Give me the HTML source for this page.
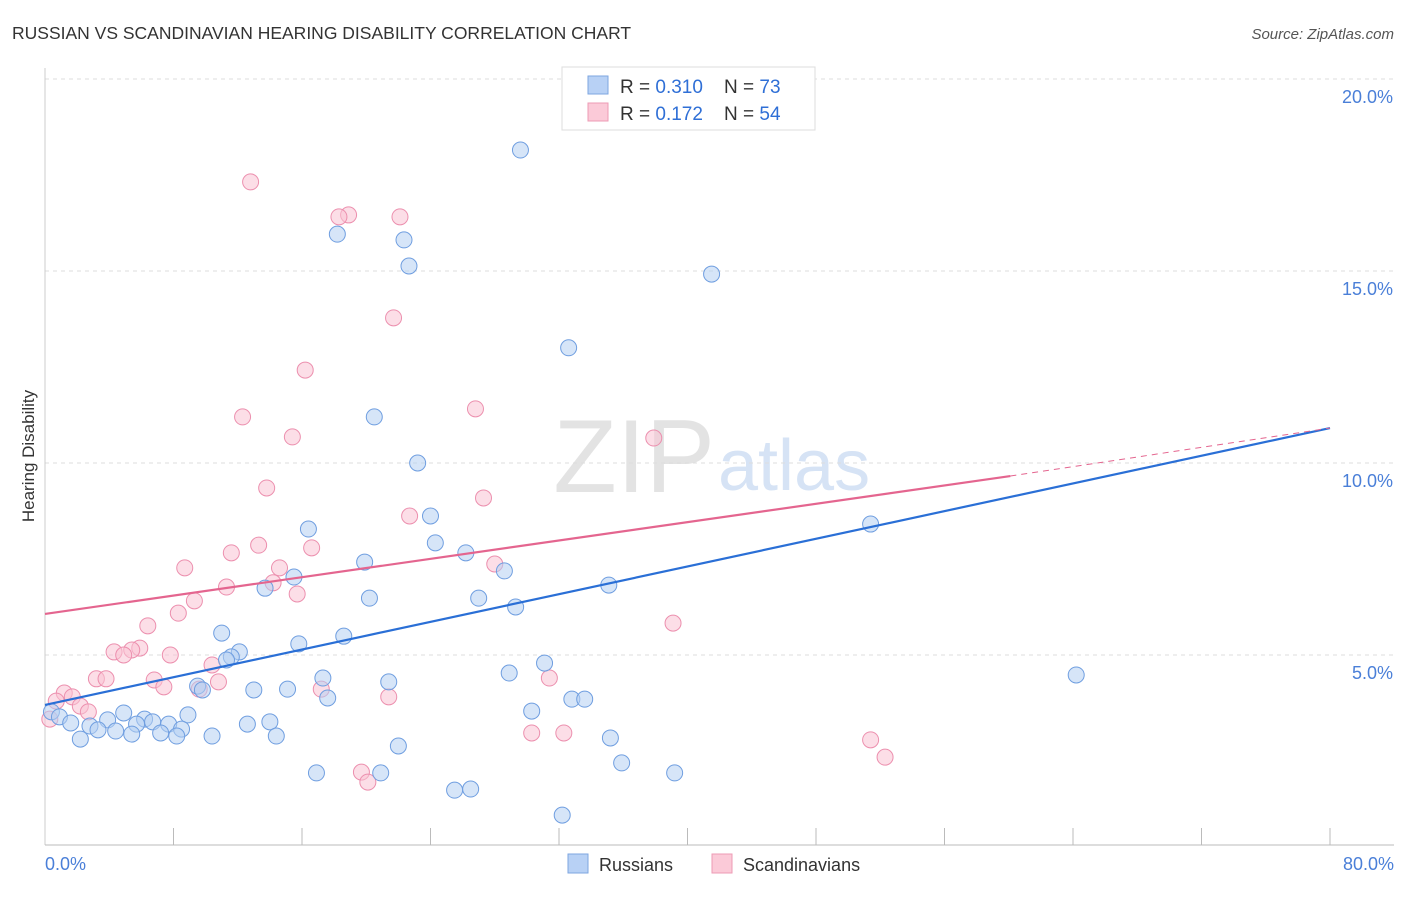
<!DOCTYPE html>
<html><head><meta charset="utf-8"><style>
body{margin:0;background:#fff;font-family:"Liberation Sans",sans-serif}
svg text{font-family:"Liberation Sans",sans-serif}
</style></head><body>
<svg id="chart" width="1406" height="892" viewBox="0 0 1406 892" xmlns="http://www.w3.org/2000/svg">
<text x="12" y="39" font-size="17.5" fill="#333">RUSSIAN VS SCANDINAVIAN HEARING DISABILITY CORRELATION CHART</text>
<text x="1394" y="39" font-size="15" fill="#555" font-style="italic" text-anchor="end">Source: ZipAtlas.com</text>
<text x="715" y="492" font-size="104" fill="#e3e3e3" font-family="Liberation Serif" text-anchor="end">ZIP</text>
<text x="718" y="490" font-size="72" fill="#d6e3f5">atlas</text>
<g id="grid"></g>
<g id="axes"></g>
<g id="marks"></g>
<text transform="translate(34,456) rotate(-90)" font-size="17" fill="#333" text-anchor="middle">Hearing Disability</text>
<text x="45" y="870" font-size="18" fill="#4a7fd8">0.0%</text>
<text x="1394" y="870" font-size="18" fill="#4a7fd8" text-anchor="end">80.0%</text>
<g>
<rect x="562" y="67" width="253" height="63" fill="#fff" stroke="#ddd"/>
<rect x="588" y="76" width="20" height="18" fill="#b8d1f5" stroke="#7ea6e0"/>
<rect x="588" y="103" width="20" height="18" fill="#fbcad8" stroke="#ee9bb5"/>
<text x="620" y="93" font-size="19" fill="#333">R = <tspan fill="#2f6fd6">0.310</tspan>&#160;&#160;&#160;&#160;N = <tspan fill="#2f6fd6">73</tspan></text>
<text x="620" y="120" font-size="19" fill="#333">R = <tspan fill="#2f6fd6">0.172</tspan>&#160;&#160;&#160;&#160;N = <tspan fill="#2f6fd6">54</tspan></text>
</g>
<g>
<rect x="568" y="854" width="20" height="19" fill="#b8d1f5" stroke="#7ea6e0"/>
<text x="599" y="871" font-size="18" fill="#333">Russians</text>
<rect x="712" y="854" width="20" height="19" fill="#fbcad8" stroke="#ee9bb5"/>
<text x="743" y="871" font-size="18" fill="#333">Scandinavians</text>
</g>
</svg>
<script>
const yTicks=[5,10,15,20];
const yTickLabels=["5.0%","10.0%","15.0%","20.0%"];
const xTicks=[8,16,24,32,40,48,56,64,72,80];
const russiansX=[29.6,18.2,22.35,22.66,41.5,32.6,20.5,23.2,24.0,16.4,24.3,51.4,26.2,19.9,28.6,15.5,13.7,35.1,20.2,27.0,29.3,11.0,18.6,15.8,12.1,11.6,11.3,31.1,64.2,28.9,17.3,21.4,9.5,9.8,13.0,15.1,17.6,32.8,33.6,30.3,4.9,0.4,0.9,8.9,3.9,6.2,6.7,7.7,12.6,14.0,1.6,2.8,3.3,4.4,5.7,8.5,5.4,7.2,8.2,10.4,14.4,2.2,35.2,22.0,35.9,16.9,20.9,39.2,25.5,26.5,32.2];
const russiansY=[18.15,15.96,15.81,15.13,14.92,13.0,11.2,10.0,8.62,8.28,7.92,8.41,7.66,7.42,7.19,7.03,6.74,6.82,6.48,6.48,6.25,5.57,5.49,5.29,5.08,4.95,4.87,4.79,4.48,4.53,4.40,4.30,4.19,4.09,4.09,4.11,3.88,3.85,3.85,3.54,3.49,3.52,3.39,3.44,3.31,3.33,3.26,3.2,3.2,3.26,3.23,3.15,3.05,3.02,3.2,3.07,2.94,2.97,2.89,2.89,2.89,2.81,2.84,2.63,2.19,1.93,1.93,1.93,1.48,1.51,0.83];
const scandX=[33.2,12.8,18.9,18.3,22.1,21.7,16.2,26.8,12.3,15.4,37.9,13.8,27.3,22.7,13.3,16.6,11.6,8.7,28.0,14.6,11.3,14.2,15.7,9.3,8.3,39.1,6.4,5.9,5.4,4.3,4.9,7.8,10.4,31.4,3.2,3.8,6.8,10.8,7.4,9.6,17.2,21.4,1.2,1.7,0.7,2.2,2.7,0.3,30.3,32.3,51.4,52.3,19.7,20.1];
const scandY=[19.97,17.32,16.46,16.41,16.41,13.78,12.42,11.41,11.2,10.68,10.65,9.35,9.09,8.62,7.86,7.79,7.66,7.27,7.37,7.27,6.77,6.88,6.59,6.41,6.09,5.83,5.76,5.18,5.13,5.08,5.0,5.0,4.74,4.40,4.38,4.38,4.35,4.30,4.17,4.11,4.11,3.91,4.01,3.91,3.80,3.67,3.52,3.33,2.97,2.97,2.79,2.34,1.95,1.69];
const russiansTrend=[[0,3.7],[80,10.91]];
const scandTrend=[[0,6.07],[60.1,9.66],[80,10.91]];
const NS="http://www.w3.org/2000/svg";
const xs=v=>45+v*1285/80, ys=v=>847-v*38.4;
function mk(tag,attrs,parent){const e=document.createElementNS(NS,tag);for(const k in attrs)e.setAttribute(k,attrs[k]);parent.appendChild(e);return e;}
const grid=document.getElementById('grid'),axes=document.getElementById('axes'),marks=document.getElementById('marks');
yTicks.forEach((t,i)=>{
 const l=mk('line',{x1:45,x2:1394,y1:ys(t),y2:ys(t),stroke:'#ddd','stroke-dasharray':'4,4'},grid);
 
 
 const tx=mk('text',{x:1393,y:ys(t)+24,'font-size':18,fill:'#4a7fd8','text-anchor':'end'},grid);
 tx.textContent=yTickLabels[i];
 
 
});
const ya=mk('line',{x1:45,x2:45,y1:68,y2:845,stroke:'#ccc'},axes);


const xa=mk('line',{x1:45,x2:1394,y1:845,y2:845,stroke:'#bbb'},axes);


xTicks.forEach(t=>{
 const l=mk('line',{x1:xs(t),x2:xs(t),y1:828,y2:845,stroke:'#bbb'},axes);
 
 
});
function pts(X,Y,fill,stroke,name){
 X.forEach((x,i)=>{
  const c=mk('circle',{cx:xs(x),cy:ys(Y[i]),r:8,fill:fill,'fill-opacity':0.55,stroke:stroke,'stroke-width':1},marks);
  
  
 });
}
pts(scandX,scandY,'#f9c3d3','#ec8fae','scandinavian-point');
pts(russiansX,russiansY,'#b5cff3','#6f9ee0','russian-point');
const bl=mk('line',{x1:xs(russiansTrend[0][0]),y1:ys(russiansTrend[0][1]),x2:xs(russiansTrend[1][0]),y2:ys(russiansTrend[1][1]),stroke:'#2a6fd6','stroke-width':2.2},marks);


const pl=mk('line',{x1:xs(scandTrend[0][0]),y1:ys(scandTrend[0][1]),x2:xs(scandTrend[1][0]),y2:ys(scandTrend[1][1]),stroke:'#e4658f','stroke-width':2.2},marks);


const pd=mk('line',{x1:xs(scandTrend[1][0]),y1:ys(scandTrend[1][1]),x2:xs(scandTrend[2][0]),y2:ys(scandTrend[2][1]),stroke:'#e4658f','stroke-width':1,'stroke-dasharray':'6,5'},marks);


</script>
</body></html>
